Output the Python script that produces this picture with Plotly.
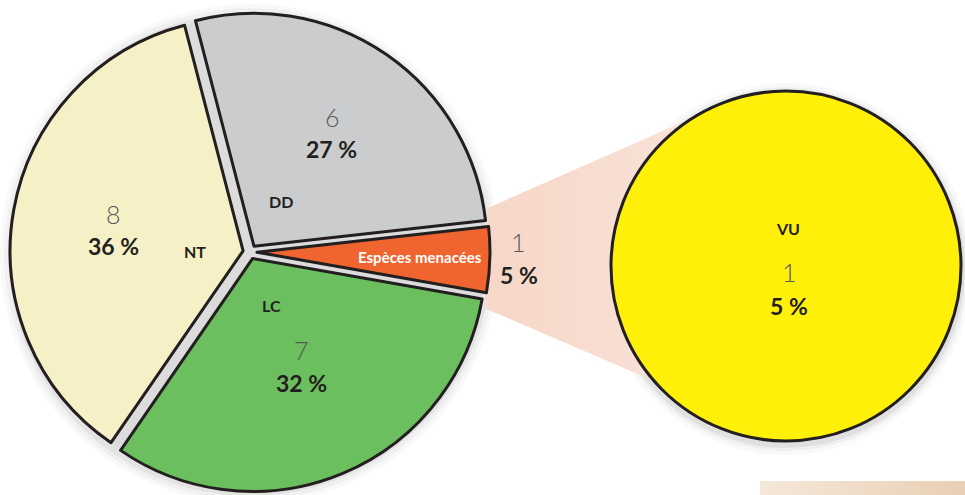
import numpy as np
import plotly.graph_objects as go

# ---------------- data ----------------
categories = ["Espèces menacées", "DD", "NT", "LC"]
counts = [1, 6, 8, 7]
slice_colors = ["#f0642f", "#cbcccd", "#f6f0c6", "#6bbf5e"]

detail_categories = ["VU"]
detail_counts = [1]
detail_colors = ["#fff00a"]

total = sum(counts)
pct_labels = [f"{round(100 * c / total)} %" for c in counts]
detail_pct = [f"{round(100 * c / total)} %" for c in detail_counts]

# ---------------- layout geometry ----------------
W, H = 965, 495
CX, CY, R, PULL = 250, 252, 233, 0.03          # main pie (pixels)
YCX, YCY, YR = 786, 266, 175                    # detail circle (pixels)
START_DEG = -10                                 # lower edge of first slice (math angle)
OUTLINE = "#231f20"
DARK = "#231f20"
LIGHT = "#58585a"
FONT = "Lato"

half = R * (1 + PULL)
main_domain = dict(x=[(CX - half) / W, (CX + half) / W],
                   y=[1 - (CY + half) / H, 1 - (CY - half) / H])
det_domain = dict(x=[(YCX - YR) / W, (YCX + YR) / W],
                  y=[1 - (YCY + YR) / H, 1 - (YCY - YR) / H])
# plotly counterclockwise: rotation marks the ccw edge of the first slice
rotation = (90 - START_DEG) - 360 * counts[0] / total

fig = go.Figure()


def line_circle(p, slope, c, r):
    d = np.array([1.0, slope]); d /= np.linalg.norm(d)
    f = p - c
    b = 2 * f.dot(d); cc = f.dot(f) - r * r
    disc = b * b - 4 * cc
    t = -b / 2 if disc < 0 else (-b - np.sqrt(disc)) / 2
    return p + t * d


# connecting wedge (behind pies)
rim = R * (1 + PULL) + 2
a_top, a_bot = np.radians(10.5), np.radians(-13.5)
p_top = np.array([CX + rim * np.cos(a_top), CY - rim * np.sin(a_top)])
p_bot = np.array([CX + rim * np.cos(a_bot), CY - rim * np.sin(a_bot)])
c = np.array([YCX, YCY], float)
i_top = line_circle(p_top, -0.44, c, YR)
i_bot = line_circle(p_bot, 0.43, c, YR)
wx = [p_top[0], i_top[0], YCX, i_bot[0], p_bot[0], p_top[0]]
wy = [p_top[1], i_top[1], YCY, i_bot[1], p_bot[1], p_top[1]]
fig.add_trace(go.Scatter(x=wx, y=wy, mode="none", fill="toself",
                         fillgradient=dict(type="horizontal",
                                           colorscale=[[0, "#f6d7c8"], [1, "#fae7de"]]),
                         hoverinfo="skip", showlegend=False))

# beige band bottom right
fig.add_trace(go.Scatter(x=[760, 965, 965, 760, 760], y=[481, 481, 495, 495, 481],
                         mode="none", fill="toself",
                         fillgradient=dict(type="horizontal",
                                           colorscale=[[0, "#f5e8da"], [1, "#e9cfb4"]]),
                         hoverinfo="skip", showlegend=False))

# main pie
fig.add_trace(go.Pie(labels=categories, values=counts, sort=False,
                     direction="counterclockwise", rotation=rotation,
                     pull=[PULL] * len(counts), domain=main_domain,
                     marker=dict(colors=slice_colors, line=dict(color=OUTLINE, width=3)),
                     textinfo="none", hoverinfo="skip", showlegend=False))

# detail circle
fig.add_trace(go.Pie(labels=detail_categories, values=detail_counts, sort=False,
                     domain=det_domain,
                     marker=dict(colors=detail_colors, line=dict(color=OUTLINE, width=3)),
                     textinfo="none", hoverinfo="skip", showlegend=False))

# shapes: shadows and gray backing disc
shapes = []
for rad, alpha in [(250, 0.025), (246, 0.035), (242, 0.05)]:
    shapes.append(dict(type="circle", xref="x", yref="y", layer="below",
                       x0=CX - rad, x1=CX + rad, y0=CY + 2 - rad, y1=CY + 2 + rad,
                       fillcolor=f"rgba(0,0,0,{alpha})", line=dict(width=0)))
shapes.append(dict(type="circle", xref="x", yref="y", layer="below",
                   x0=CX - 236, x1=CX + 236, y0=CY - 236, y1=CY + 236,
                   fillcolor="#dcdcdd", line=dict(width=0)))
for rad, alpha in [(186, 0.025), (182, 0.04), (179, 0.06)]:
    shapes.append(dict(type="circle", xref="x", yref="y", layer="below",
                       x0=YCX - rad, x1=YCX + rad, y0=YCY + 3 - rad, y1=YCY + 3 + rad,
                       fillcolor=f"rgba(0,0,0,{alpha})", line=dict(width=0)))

# ---------------- text ----------------
label_pos = {  # (code xy, count xy, pct xy)
    "DD": ((281, 201), (332, 117), (331, 149)),
    "NT": ((195, 251), (113, 214), (113, 246)),
    "LC": ((271, 305), (301, 350), (301, 383)),
}
ann = []


def add_text(x, y, text, size, color, weight):
    ann.append(dict(x=x, y=y, xref="x", yref="y", text=text, showarrow=False,
                    xanchor="center", yanchor="middle",
                    font=dict(family=FONT, size=size, color=color, weight=weight)))


for cat, n, pct in zip(categories, counts, pct_labels):
    if cat in label_pos:
        (cx_, cy_), (nx, ny), (px, py) = label_pos[cat]
        add_text(cx_, cy_, f"<b>{cat}</b>", 16, DARK, 700)
        add_text(nx, ny, str(n), 25, LIGHT, 300)
        add_text(px, py, f"<b>{pct}</b>", 23, DARK, 700)
    else:
        add_text(420, 257, f"<b>{cat}</b>", 15, "white", 700)
        add_text(518, 242, str(n), 25, LIGHT, 300)
        add_text(519, 275, f"<b>{pct}</b>", 23, DARK, 700)

add_text(788, 228, f"<b>{detail_categories[0]}</b>", 16, DARK, 700)
add_text(789, 272, str(detail_counts[0]), 25, LIGHT, 300)
add_text(789, 306, f"<b>{detail_pct[0]}</b>", 23, DARK, 700)

fig.update_layout(
    width=W, height=H, autosize=False,
    margin=dict(l=0, r=0, t=0, b=0, pad=0),
    paper_bgcolor="white", plot_bgcolor="rgba(0,0,0,0)",
    xaxis=dict(range=[0, W], visible=False, fixedrange=True, domain=[0, 1]),
    yaxis=dict(range=[H, 0], visible=False, fixedrange=True, domain=[0, 1]),
    shapes=shapes, annotations=ann, showlegend=False,
)

fig.write_html("out.html")
